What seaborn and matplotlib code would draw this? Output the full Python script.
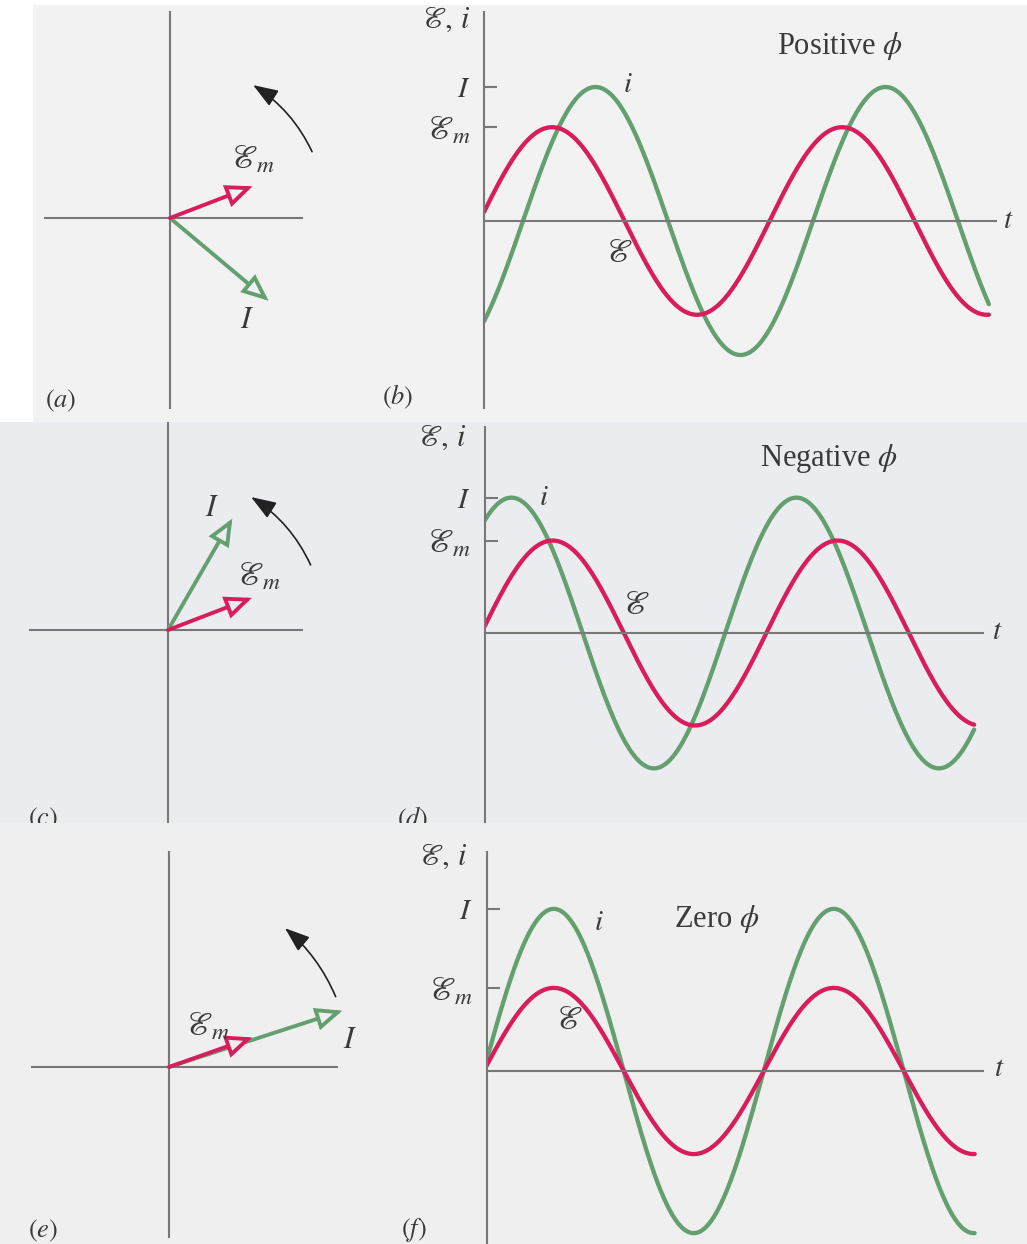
import numpy as np
import pandas as pd
import matplotlib
matplotlib.use('Agg')
import matplotlib.pyplot as plt
import seaborn as sns
from matplotlib.patches import Rectangle, FancyArrowPatch

#%% Data

# wave panels (b), (d), (f) -- amplitudes in units of I of panel (b)
wave_tags = ['b', 'd', 'f']
wave_titles = [r'Positive $\phi$', r'Negative $\phi$', r'Zero $\phi$']
emf_amp = [0.70, 0.69, 0.62]
cur_amp = [1.00, 1.01, 1.21]
emf_phase = [5.5, 4.0, 3.7]      # deg at t = 0
cur_phase = [-48.4, 56.0, 3.7]   # deg at t = 0
t_end = [1.741, 1.718, 1.743]    # length of drawn curves, in periods

# phasor panels (a), (c), (e)
phasor_tags = ['a', 'c', 'e']
em_len = [0.66, 0.67, 0.66]
em_ang = [21.0, 21.0, 19.5]
i_len = [0.96, 0.96, 1.36]
i_ang = [-40.0, 60.0, 18.0]
rot_r = [1.17, 1.17, 1.35]
rot_from = [24.0, 23.5, 22.0]
rot_to = [59.0, 59.0, 51.0]

#%% Style

sns.set_style('white')
plt.rcParams['font.family'] = ['Liberation Serif', 'DejaVu Serif']
plt.rcParams['mathtext.fontset'] = 'stix'

RED = '#d81c5c'
GREEN = '#639f6f'
AX_COL = '#787878'
TXT = '#3a3a3a'
bg_rows = ['#f2f2f2', '#ebecef', '#efefef']
E = r'\mathscr{E}'

W, H = 1027, 1244
U = 134.0  # px per amplitude unit

fig = plt.figure(figsize=(W / 100, H / 100), dpi=100)
fig.patch.set_facecolor('white')


def px_axes(x0, x1, y0, y1):
    ax = fig.add_axes([x0 / W, 1 - y1 / H, (x1 - x0) / W, (y1 - y0) / H])
    ax.patch.set_visible(False)
    ax.set_zorder(2)
    return ax


def ftext(x, y, s, size=21, **kw):
    fig.text(x / W, 1 - y / H, s, fontsize=size, color=TXT,
             ha='center', va='center', zorder=3, **kw)


# scanned page backgrounds
for (x0, y0, x1, y1), c, z in zip([(33, 5, W, 422), (0, 422, W, 823), (0, 823, W, H)],
                                  bg_rows, [0, 0, 1]):
    fig.patches.append(Rectangle((x0 / W, 1 - y1 / H), (x1 - x0) / W, (y1 - y0) / H,
                                 transform=fig.transFigure, fc=c, ec='none', zorder=z))

#%% Wave panels

wave_boxes = [(484, 996, 12, 408, 221, 290), (484.5, 983, 427, 822, 633, 285),
              (486.6, 983, 852, 1244, 1071, 280)]
for k, (x0, x1, y0, y1, zero, per) in enumerate(wave_boxes):
    ax = px_axes(x0, x1, y0, y1)
    tt = np.linspace(0, t_end[k], 600)
    cur = cur_amp[k] * np.sin(2 * np.pi * tt + np.radians(cur_phase[k]))
    emf = emf_amp[k] * np.sin(2 * np.pi * tt + np.radians(emf_phase[k]))
    df = pd.DataFrame({'t': np.r_[tt, tt], 'v': np.r_[cur, emf],
                       's': ['i'] * len(tt) + ['emf'] * len(tt)})
    sns.lineplot(data=df, x='t', y='v', hue='s', hue_order=['i', 'emf'],
                 palette={'i': GREEN, 'emf': RED}, estimator=None, sort=False,
                 lw=3.1, legend=False, ax=ax)
    ax.set_xlim(0, (x1 - x0) / per)
    ax.set_ylim(-(y1 - zero) / U, (zero - y0) / U)
    ax.set_xlabel('')
    ax.set_ylabel('')
    for sp in ['top', 'right']:
        ax.spines[sp].set_visible(False)
    ax.spines['bottom'].set_position(('data', 0))
    for sp in ['left', 'bottom']:
        ax.spines[sp].set_color(AX_COL)
        ax.spines[sp].set_linewidth(1.5)
    ax.set_xticks([])
    ax.set_yticks([emf_amp[k], cur_amp[k]])
    ax.set_yticklabels([rf'${E}_m$', r'$I$'])
    ax.yaxis.set_ticks_position('left')
    ax.tick_params(axis='y', direction='in', length=9.5, width=1.5, color=AX_COL,
                   pad=10, labelsize=21, labelcolor=TXT)
    ax.get_yticklabels()[0].set_fontsize(24)

# wave panel texts
ftext(446, 20, rf'${E},\, i$', size=22)
ftext(442, 438, rf'${E},\, i$', size=22)
ftext(443, 857, rf'${E},\, i$', size=22)
ftext(840, 46, wave_titles[0], size=22)
ftext(829, 459, wave_titles[1], size=22)
ftext(717, 919, wave_titles[2], size=22)
ftext(628, 85, r'$i$')
ftext(619, 254, rf'${E}$', size=24)
ftext(544, 498, r'$i$')
ftext(636, 606, rf'${E}$', size=24)
ftext(599, 923, r'$i$')
ftext(569, 1021, rf'${E}$', size=24)
ftext(1008, 221, r'$t$')
ftext(997, 632, r'$t$')
ftext(999, 1069, r'$t$')
ftext(398, 397, r'$(b)$', size=19)
ftext(414, 1230, r'$(f)$', size=19)
fig.text(413 / W, 1 - 819 / H, r'$(d)$', fontsize=19, color=TXT,
         ha='center', va='center', zorder=0.5)

#%% Phasor panels

phasor_boxes = [(45, 302, 12, 408, 170, 218), (30, 302, 423, 822, 168, 630),
                (32, 337, 852, 1237, 169, 1067)]
for k, (x0, x1, y0, y1, ox, oy) in enumerate(phasor_boxes):
    ax = px_axes(x0, x1, y0, y1)
    ax.set_xlim((x0 - ox) / U, (x1 - ox) / U)
    ax.set_ylim(-(y1 - oy) / U, (oy - y0) / U)
    for sp in ['top', 'right']:
        ax.spines[sp].set_visible(False)
    for sp in ['left', 'bottom']:
        ax.spines[sp].set_position(('data', 0))
        ax.spines[sp].set_color(AX_COL)
        ax.spines[sp].set_linewidth(1.5)
    ax.set_xticks([])
    ax.set_yticks([])

    for L, ang, col in [(i_len[k], i_ang[k], GREEN), (em_len[k], em_ang[k], RED)]:
        a = np.radians(ang)
        ax.annotate('', xy=(L * np.cos(a), L * np.sin(a)), xytext=(0, 0),
                    annotation_clip=False,
                    arrowprops=dict(arrowstyle='-|>,head_length=1.05,head_width=0.45',
                                    ec=col, fc=bg_rows[k], lw=2.8, shrinkA=0, shrinkB=0,
                                    mutation_scale=14, joinstyle='miter',
                                    clip_on=False))

    a1, a2 = np.radians(rot_from[k]), np.radians(rot_to[k])
    rad = np.tan((a2 - a1) / 4)
    ax.add_patch(FancyArrowPatch((rot_r[k] * np.cos(a1), rot_r[k] * np.sin(a1)),
                                 (rot_r[k] * np.cos(a2), rot_r[k] * np.sin(a2)),
                                 connectionstyle=f'arc3,rad={rad:.3f}',
                                 arrowstyle='-|>,head_length=1.1,head_width=0.4',
                                 mutation_scale=14, lw=1.2, color='#222222',
                                 clip_on=False))

ftext(253, 160, rf'${E}_m$', size=24)
ftext(247, 320, r'$I$', size=22)
ftext(259, 577, rf'${E}_m$', size=24)
ftext(212, 508, r'$I$', size=22)
ftext(208, 1027, rf'${E}_m$', size=24)
ftext(350, 1040, r'$I$', size=22)
ftext(61, 401, r'$(a)$', size=19)
ftext(43, 1231, r'$(e)$', size=19)
fig.text(43 / W, 1 - 819 / H, r'$(c)$', fontsize=19, color=TXT,
         ha='center', va='center', zorder=0.5)

plt.savefig('out.png', dpi=100)
